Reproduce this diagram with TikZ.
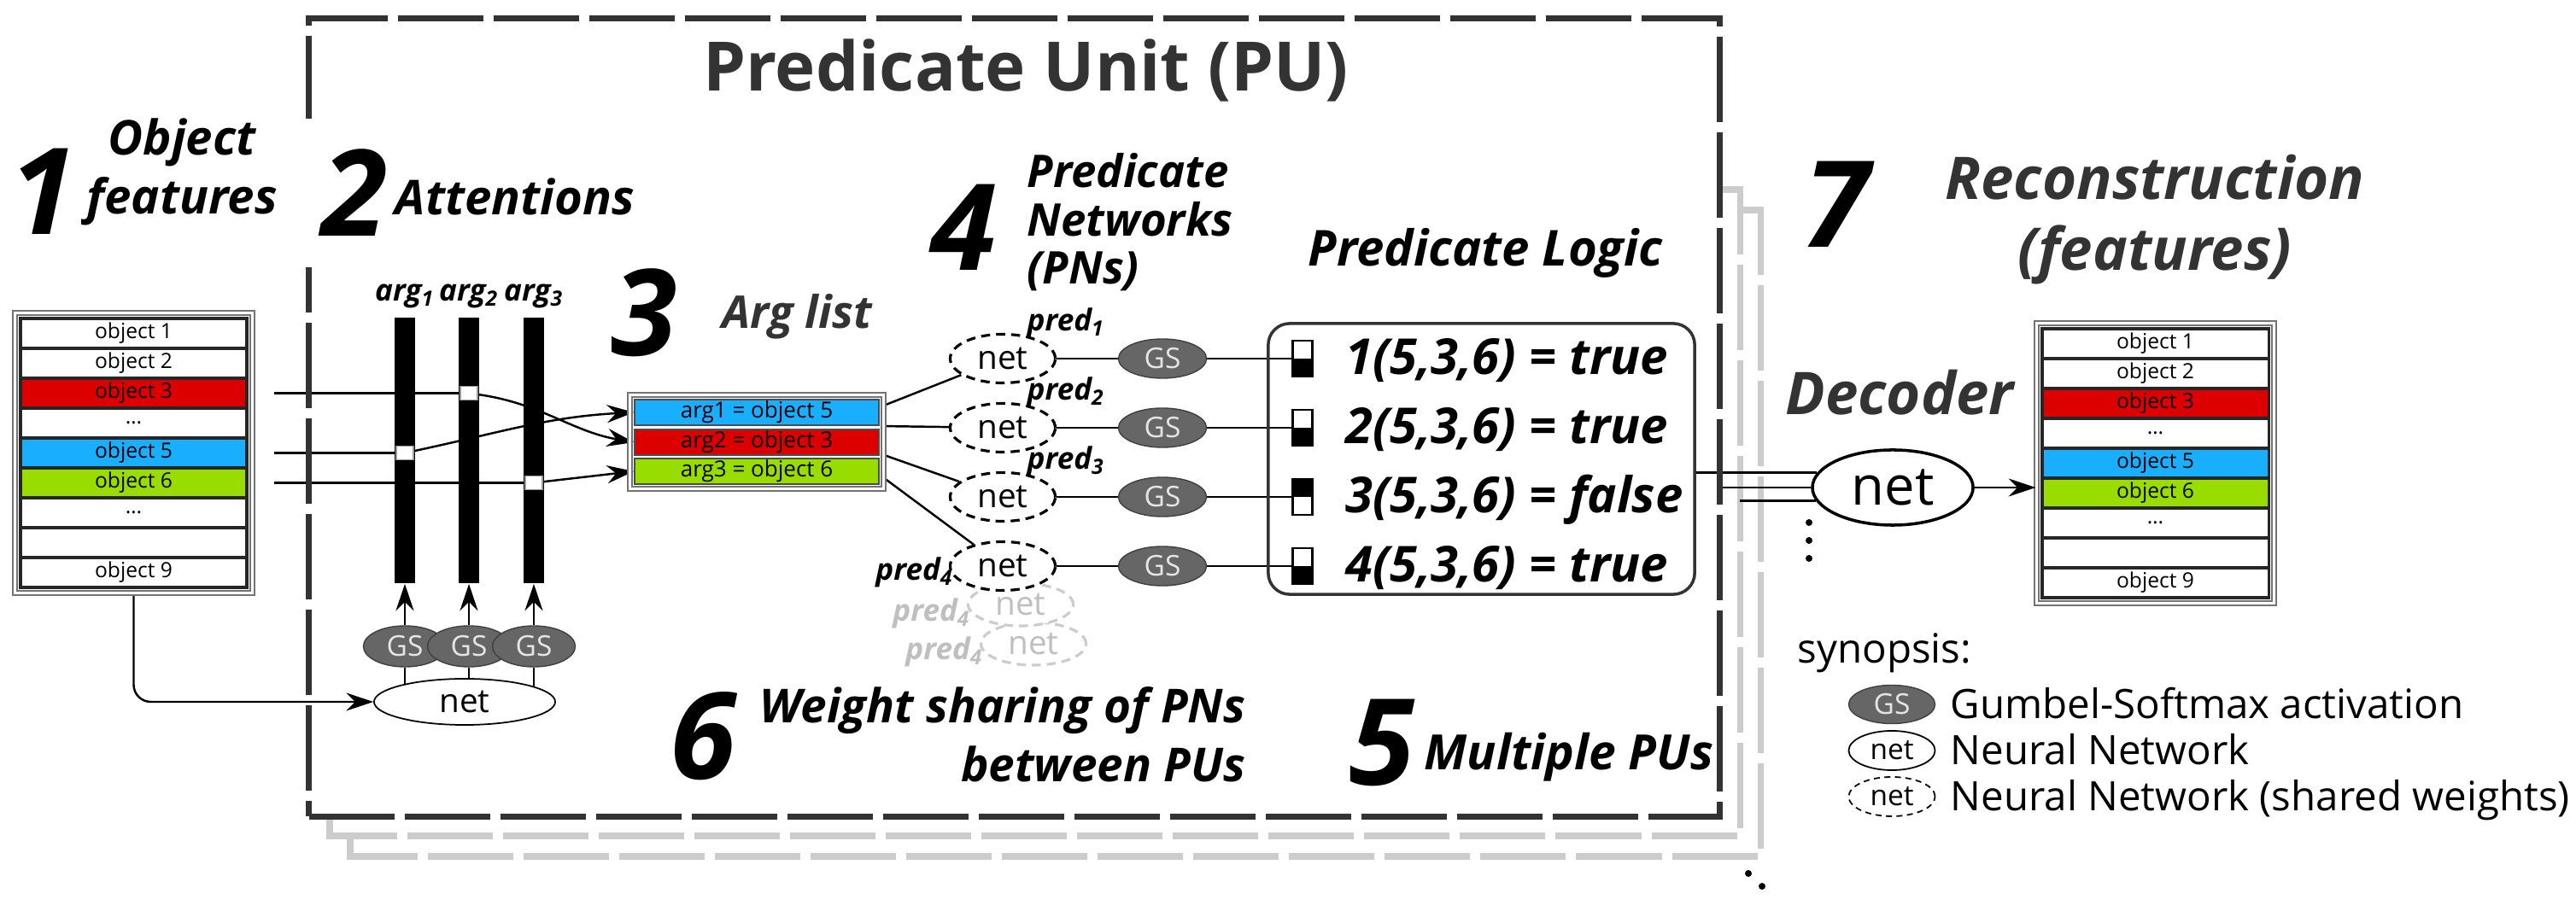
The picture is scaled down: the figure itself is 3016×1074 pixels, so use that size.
\documentclass[tikz,border=0pt]{standalone}
\usepackage{fontspec}
\setmainfont{Open Sans}
\usepackage{tikz}
\usetikzlibrary{arrows.meta,%
                shapes.geometric,%
                fit,%
                backgrounds}

\definecolor{objred}{RGB}{221,0,0}
\definecolor{objblue}{RGB}{26,174,255}
\definecolor{objgreen}{RGB}{153,221,0}
\definecolor{gsgray}{RGB}{102,102,102}
\definecolor{darktext}{RGB}{51,51,51}

\begin{document}
\begin{tikzpicture}[x=0.01cm,y=-0.01cm]
		\tikzstyle{NumStyle}=[font=\fontsize{40}{40}\selectfont\bfseries\itshape,inner sep=0pt,anchor=base]
		\tikzstyle{HeadStyle}=[font=\fontsize{16}{19.5}\selectfont\bfseries\itshape,inner sep=0pt]
		\tikzstyle{PUStyle}=[draw=darktext,line width=2pt,dash pattern=on 1cm off 0.12cm]
		\tikzstyle{ShadowStyle}=[draw=black!20,line width=2pt,dash pattern=on 1cm off 0.12cm]
		\tikzstyle{BarStyle}=[fill=black,minimum width=0.24cm,minimum height=3.11cm,inner sep=0pt]
		\tikzstyle{SelStyle}=[fill=white,draw=black!40,line width=0.3pt,minimum width=0.2cm,minimum height=0.16cm,inner sep=0pt]
		\tikzstyle{GSStyle}=[ellipse,fill=gsgray,draw=black!75,text=black!10,font=\fontsize{9.5}{9.5}\selectfont,inner sep=0pt]
		\tikzstyle{NetStyle}=[ellipse,draw=black,fill=white,line width=0.5pt,inner sep=0pt,font=\fontsize{11}{11}\selectfont]
		\tikzstyle{SharedStyle}=[NetStyle,line width=0.9pt,dash pattern=on 3pt off 2pt]
		\tikzstyle{RowStyle}=[draw=black!85,line width=0.9pt,minimum width=2.65cm,minimum height=0.35cm,inner sep=0pt,font=\fontsize{7}{7}\selectfont]
		\tikzstyle{ArgRowStyle}=[draw=black!70,line width=0.4pt,minimum width=2.86cm,minimum height=0.3cm,inner sep=0pt,font=\fontsize{7.4}{7.4}\selectfont]
		\tikzstyle{FrameStyle}=[draw=black!55,line width=0.6pt,double=white,double distance=0.8pt,inner sep=0.05cm]
		\tikzstyle{FlowStyle}=[-{Stealth[length=9pt,width=6pt,inset=3pt]},line width=0.7pt]
		\tikzstyle{PredStyle}=[font=\fontsize{10}{10}\selectfont\bfseries\itshape,inner sep=0pt]
		\tikzstyle{IndStyle}=[draw=black,line width=0.6pt,fill=white,minimum width=0.23cm,minimum height=0.42cm,inner sep=0pt]
		\tikzstyle{TrueStyle}=[IndStyle,path picture={\fill[black] (path picture bounding box.west) rectangle (path picture bounding box.south east);}]
		\tikzstyle{FalseStyle}=[IndStyle,path picture={\fill[black] (path picture bounding box.north west) rectangle (path picture bounding box.east);}]
		\tikzstyle{LogicStyle}=[font=\fontsize{16.5}{16.5}\selectfont\bfseries\itshape,inner sep=0pt,anchor=base west]
		\tikzstyle{LegendStyle}=[font=\fontsize{13.5}{13.5}\selectfont,inner sep=0pt,anchor=base west]
		\useasboundingbox (0,0) rectangle (3016,1074);

		% stacked units behind
		\coordinate (sh1) at (2037,222);
		\begin{scope}[on background layer]
			\draw[ShadowStyle] (2013,222) -- (sh1) -- (2037,979) -- (386,979) -- (386,956);
			\draw[ShadowStyle] (2037,246) -- (2061,246) -- (2061,1003) -- (410,1003) -- (410,979);
		\end{scope}
		\node[PUStyle,minimum width=16.51cm,minimum height=9.34cm] (pu) at (1187.5,489) {};
		\node[font=\fontsize{22.7}{22.7}\selectfont\bfseries,text=darktext,anchor=base,inner sep=0pt] (title) at (1201,107) {Predicate Unit (PU)};

		% 1 object features
		\node[NumStyle] (n1) at (50,275) {1};
		\node[HeadStyle,anchor=north,align=center] (h1) at (213,138) {Object\\features};
		\foreach \i/\lbl/\col in {1/object 1/white,2/object 2/white,3/object 3/objred,4/\ldots/white,5/object 5/objblue,6/object 6/objgreen,7/\ldots/white,8/{}/white,9/object 9/white}
			\node[RowStyle,fill=\col] (o\i) at (156.5,{373+35*(\i-0.5)}) {\lbl};
		\node[FrameStyle,fit=(o1)(o9)] (objs) {};

		% 2 attentions
		\node[NumStyle,fill=white,inner xsep=0.2cm,minimum height=1.74cm] (n2) at (415,277) {2};
		\node[HeadStyle,anchor=base west] (h2) at (462,252) {Attentions};
		\node[PredStyle,anchor=base] (l1) at (474,353) {arg\textsubscript{1}};
		\node[PredStyle,anchor=base] (l2) at (549,353) {arg\textsubscript{2}};
		\node[PredStyle,anchor=base] (l3) at (625,353) {arg\textsubscript{3}};
		\node[BarStyle] (b1) at (474,527.5) {};
		\node[BarStyle] (b2) at (549,527.5) {};
		\node[BarStyle] (b3) at (625,527.5) {};
		\node[SelStyle] (s1) at (474,530.5) {};
		\node[SelStyle] (s2) at (549,460.5) {};
		\node[SelStyle] (s3) at (625,565.5) {};
		\node[GSStyle,minimum width=0.97cm,minimum height=0.48cm] (g1) at (474,757) {GS};
		\node[GSStyle,minimum width=0.97cm,minimum height=0.48cm] (g2) at (549,757) {GS};
		\node[GSStyle,minimum width=0.97cm,minimum height=0.48cm] (g3) at (625,757) {GS};
		\node[NetStyle,minimum width=2.12cm,minimum height=0.54cm] (anet) at (544,822) {net};

		% 3 arg list
		\node[NumStyle] (n3) at (754,417) {3};
		\node[HeadStyle,font=\fontsize{15}{15}\selectfont\bfseries\itshape,text=darktext,anchor=base west] (h3) at (845,385) {Arg list};
		\node[ArgRowStyle,fill=objblue] (a1) at (886,483) {arg1 = object 5};
		\node[ArgRowStyle,fill=objred] (a2) at (886,518) {arg2 = object 3};
		\node[ArgRowStyle,fill=objgreen] (a3) at (886,552) {arg3 = object 6};
		\node[FrameStyle,fit=(a1)(a3)] (args) {};

		% 4 predicate networks
		\node[NumStyle] (n4) at (1128,317) {4};
		\node[HeadStyle,font=\fontsize{15}{16}\selectfont\bfseries\itshape,anchor=north west,align=left] (h4) at (1202,179) {Predicate\\Networks\\(PNs)};
		\node[SharedStyle,minimum width=1.23cm,minimum height=0.5cm,draw=black!20,text=black!25] (q2) at (1210,754) {net};
		\node[SharedStyle,minimum width=1.23cm,minimum height=0.5cm,draw=black!20,text=black!25] (q1) at (1195,708) {net};
		\node[SharedStyle,minimum width=1.23cm,minimum height=0.57cm] (p1) at (1174,420) {net};
		\node[SharedStyle,minimum width=1.23cm,minimum height=0.57cm] (p2) at (1174,501) {net};
		\node[SharedStyle,minimum width=1.23cm,minimum height=0.57cm] (p3) at (1174,582) {net};
		\node[SharedStyle,minimum width=1.23cm,minimum height=0.57cm] (p4) at (1174,663) {net};
		\node[PredStyle,anchor=base west] (pl1) at (1202,388) {pred\textsubscript{1}};
		\node[PredStyle,anchor=base west] (pl2) at (1202,469) {pred\textsubscript{2}};
		\node[PredStyle,anchor=base west] (pl3) at (1202,550) {pred\textsubscript{3}};
		\node[PredStyle,anchor=base east] (pl4) at (1117,680) {pred\textsubscript{4}};
		\node[PredStyle,anchor=base east,text=black!25] (ql1) at (1137,728) {pred\textsubscript{4}};
		\node[PredStyle,anchor=base east,text=black!25] (ql2) at (1152,773) {pred\textsubscript{4}};
		\node[GSStyle,minimum width=1.03cm,minimum height=0.46cm] (pg1) at (1361,420) {GS};
		\node[GSStyle,minimum width=1.03cm,minimum height=0.46cm] (pg2) at (1361,501) {GS};
		\node[GSStyle,minimum width=1.03cm,minimum height=0.46cm] (pg3) at (1361,582) {GS};
		\node[GSStyle,minimum width=1.03cm,minimum height=0.46cm] (pg4) at (1361,663) {GS};

		% predicate logic
		\node[LogicStyle,anchor=base] (hl) at (1739,312) {Predicate Logic};
		\node[draw=darktext,line width=1pt,rounded corners=0.25cm,minimum width=4.99cm,minimum height=3.17cm] (plog) at (1734.5,537.5) {};
		\node[TrueStyle] (i1) at (1525,420) {};
		\node[TrueStyle] (i2) at (1525,501) {};
		\node[FalseStyle] (i3) at (1525,582) {};
		\node[TrueStyle] (i4) at (1525,663) {};
		\node[LogicStyle] (f1) at (1575,439) {1(5,3,6) = true};
		\node[LogicStyle] (f2) at (1575,520) {2(5,3,6) = true};
		\node[LogicStyle] (f3) at (1575,601) {3(5,3,6) = false};
		\node[LogicStyle] (f4) at (1575,682) {4(5,3,6) = true};

		% 5 and 6
		\node[NumStyle] (n6) at (823,913) {6};
		\node[HeadStyle,font=\fontsize{15.6}{19.5}\selectfont\bfseries\itshape,anchor=north east,align=right] (h6) at (1459,804) {Weight sharing of PNs\\between PUs};
		\node[NumStyle] (n5) at (1618,920) {5};
		\node[HeadStyle,font=\fontsize{16.2}{16.2}\selectfont\bfseries\itshape,anchor=base west] (h5) at (1667,902) {Multiple PUs};

		% 7 reconstruction
		\node[NumStyle] (n7) at (2150,290) {7};
		\node[HeadStyle,font=\fontsize{19.6}{23.6}\selectfont\bfseries\itshape,text=darktext,align=center,anchor=north] (h7) at (2523,180) {Reconstruction\\(features)};
		\node[HeadStyle,font=\fontsize{19.6}{19.6}\selectfont\bfseries\itshape,text=darktext,anchor=base] (hd) at (2224,486) {Decoder};
		\node[NetStyle,line width=1pt,font=\fontsize{18}{18}\selectfont,minimum width=1.88cm,minimum height=0.88cm] (dec) at (2216,571) {net};
		\foreach \i/\lbl/\col in {1/object 1/white,2/object 2/white,3/object 3/objred,4/\ldots/white,5/object 5/objblue,6/object 6/objgreen,7/\ldots/white,8/{}/white,9/object 9/white}
			\node[RowStyle,fill=\col] (d\i) at (2523.5,{385+35*(\i-0.5)}) {\lbl};
		\node[FrameStyle,fit=(d1)(d9)] (rlist) {};
		\fill (2118,612) circle (0.04cm);
		\fill (2118,633) circle (0.04cm);
		\fill (2118,654) circle (0.04cm);
		\fill (2047,1023) circle (0.04cm);
		\fill (2063,1038) circle (0.04cm);

		% synopsis
		\node[LegendStyle] (syn) at (2104,777) {synopsis:};
		\node[GSStyle,minimum width=1.01cm,minimum height=0.45cm] (lg1) at (2215,825) {GS};
		\node[NetStyle,font=\fontsize{9.5}{9.5}\selectfont,minimum width=1.01cm,minimum height=0.46cm] (lg2) at (2215,879) {net};
		\node[SharedStyle,line width=0.5pt,dash pattern=on 2pt off 1.5pt,font=\fontsize{9.5}{9.5}\selectfont,minimum width=1.01cm,minimum height=0.46cm] (lg3) at (2215,933) {net};
		\node[LegendStyle] (lt1) at (2283,842) {Gumbel-Softmax activation};
		\node[LegendStyle] (lt2) at (2283,896) {Neural Network};
		\node[LegendStyle] (lt3) at (2283,950) {Neural Network (shared weights)};

		% connections
		\coordinate (c3) at ([xshift=0.3cm]o3.east);
		\coordinate (c5) at ([xshift=0.3cm]o5.east);
		\coordinate (c6) at ([xshift=0.3cm]o6.east);
		\begin{scope}[on background layer]
			\draw[line width=0.7pt] (c3) -- (s2);
			\draw[line width=0.7pt] (c5) -- (s1);
			\draw[line width=0.7pt] (c6) -- (s3);
			\draw[FlowStyle] (s1) to[out=12,in=183] (a1.west);
			\draw[FlowStyle] (s2) to[out=-8,in=170] (a2.west);
			\draw[FlowStyle] (s3) -- (a3.west);
			\draw[FlowStyle] (g1) -- (b1);
			\draw[FlowStyle] (g2) -- (b2);
			\draw[FlowStyle] (g3) -- (b3);
			\draw[line width=0.7pt] (g1) -- (g1 |- anet.center);
			\draw[line width=0.7pt] (g2) -- (g2 |- anet.center);
			\draw[line width=0.7pt] (g3) -- (g3 |- anet.center);
			\draw[FlowStyle,rounded corners=0.2cm] (objs.south) |- (anet.west);
			\draw[line width=0.7pt] (args.16) -- (p1);
			\draw[line width=0.7pt] (args.7) -- (p2);
			\draw[line width=0.7pt] (args.-6) -- (p3);
			\draw[line width=0.7pt] (args.-16) -- (p4);
			\draw[line width=0.7pt] (p1) -- (pg1);
			\draw[line width=0.7pt] (p2) -- (pg2);
			\draw[line width=0.7pt] (p3) -- (pg3);
			\draw[line width=0.7pt] (p4) -- (pg4);
			\draw[line width=0.7pt] (pg1) -- (i1);
			\draw[line width=0.7pt] (pg2) -- (i2);
			\draw[line width=0.7pt] (pg3) -- (i3);
			\draw[line width=0.7pt] (pg4) -- (i4);
			\draw[line width=0.8pt] (plog.east |- dec.169) -- (dec.169);
			\draw[line width=0.8pt] (pu.east |- dec.west) -- (dec.west);
			\draw[line width=0.8pt] (sh1 |- dec.190) -- (dec.190);
		\end{scope}
		\draw[FlowStyle] (dec.east) -- (dec.east -| rlist.west);
	\end{tikzpicture}
\end{document}
